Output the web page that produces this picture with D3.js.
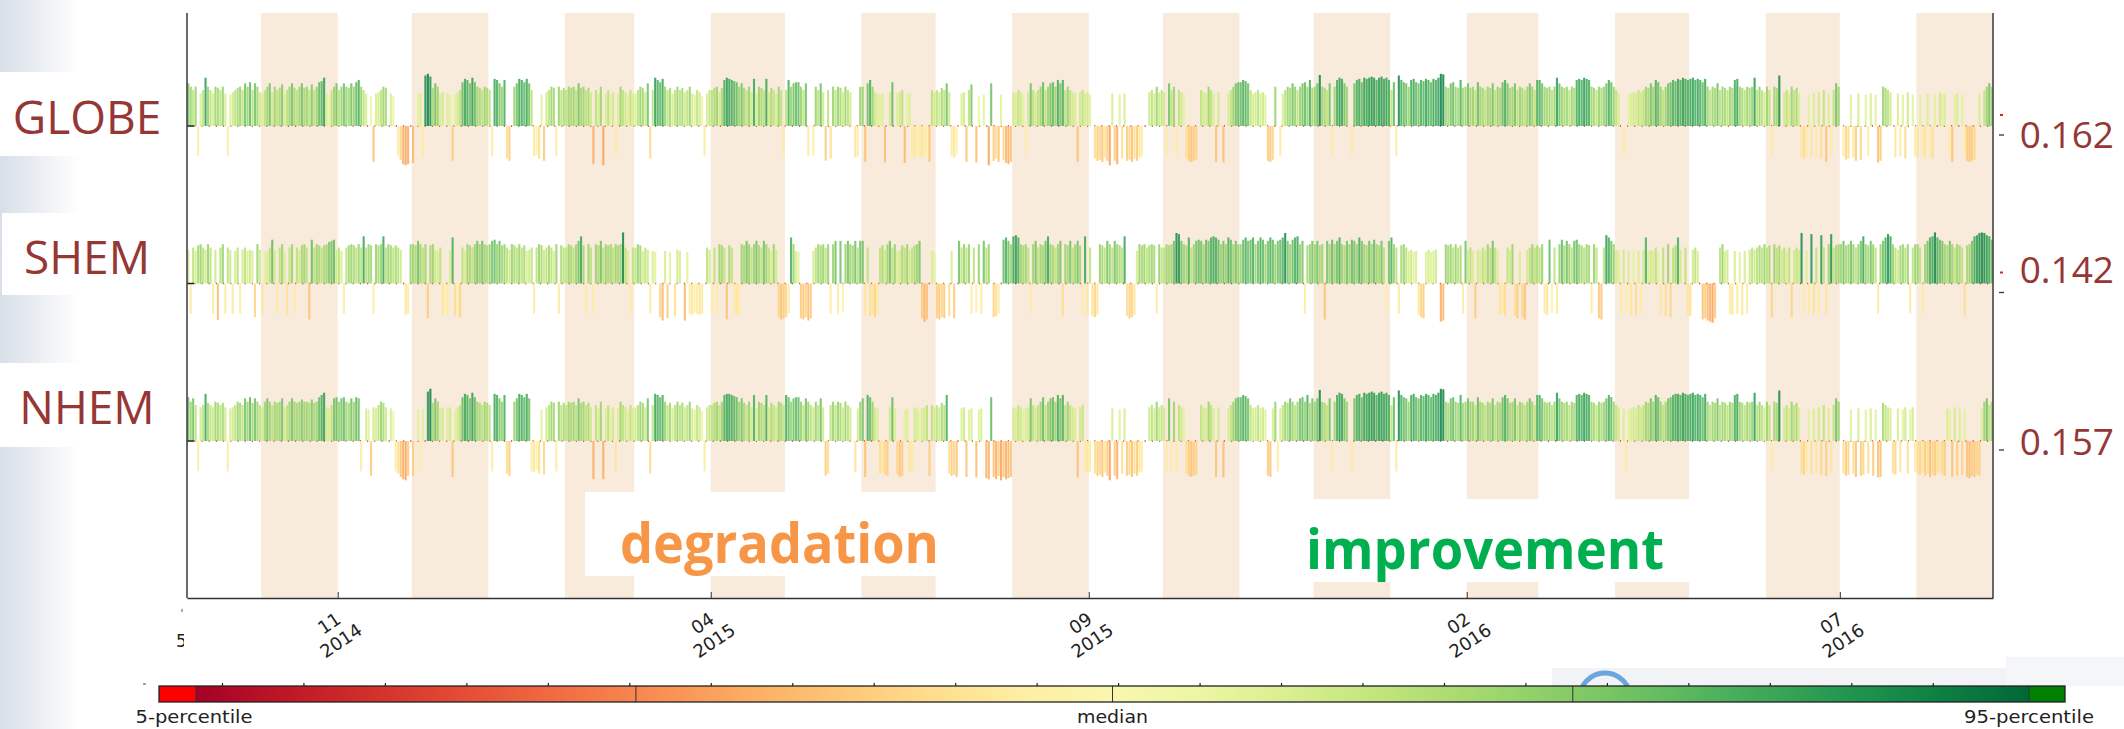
<!DOCTYPE html>
<html lang="en">
<head>
<meta charset="UTF-8">
<title>Daily score changes GLOBE / SHEM / NHEM</title>
<style>
    body, html {
        margin: 0;
        padding: 0;
        width: 100%;
        height: 100%;
        overflow: hidden;
        background: #fff;
    }
    svg { display: block; }
</style>
</head>
<body>
<script src="https://d3js.org/d3.v7.min.js"></script>
<script>
// regions and the summary number shown to the right of each row
var regions = ["GLOBE", "SHEM", "NHEM"];
var summary = ["0.162", "0.142", "0.157"];
var startDate = "2014-09-01", endDate = "2016-09-01";
var tickLabels = ["2014-11", "2015-04", "2015-09", "2016-02", "2016-07"];
var cbLabels = ["5-percentile", "median", "95-percentile"];
var cbBounds = [5, 26.6, 50, 72.6, 95];

// daily percentile of the score change, one value per day from 1 Sep 2014 (0 = no data)
var globe = [
78,72,66,72,45,60,66,88,72,66,60,72,70,66,72,60,44,58,62,66,70,72,66,78,72,80,66,78,72,62,
60,66,72,78,62,72,66,70,76,60,66,72,78,70,66,72,78,70,72,66,76,66,72,80,82,88,60,55,66,72,78,
66,72,78,72,70,78,72,80,84,72,66,60,0,55,34,60,62,66,72,70,0,60,55,0,44,38,30,28,30,0,
32,0,58,60,44,92,95,90,70,78,72,60,62,0,60,58,36,58,62,66,80,86,84,78,88,80,72,70,66,72,70,
66,44,86,84,78,72,84,40,36,0,72,78,86,84,80,86,78,66,44,46,40,58,36,62,66,72,70,44,72,66,70,
66,72,70,72,66,78,70,72,66,70,62,30,66,60,72,28,60,66,58,62,44,60,72,66,62,58,66,60,
60,66,72,70,62,78,40,66,88,84,80,86,72,66,70,60,66,72,66,70,62,66,72,60,58,66,62,55,44,60,66,
66,70,72,62,70,84,88,86,84,82,80,72,78,70,66,72,62,86,60,72,70,66,86,62,70,66,60,72,66,44,
66,84,72,78,80,80,72,66,78,44,0,45,72,66,78,62,36,66,40,72,66,72,70,62,72,66,62,0,42,44,72,
72,34,78,84,72,62,60,58,60,33,0,62,80,0,60,62,66,32,58,60,44,42,46,44,42,44,46,34,66,62,
66,62,70,66,78,62,44,42,46,0,60,62,34,66,76,0,33,55,0,58,0,28,78,36,40,34,58,38,32,30,34,
62,60,66,62,58,44,62,78,66,62,66,72,80,66,72,78,80,72,84,78,84,66,72,66,62,60,34,62,66,60,62,
58,0,40,36,38,34,42,36,28,60,36,30,58,40,60,36,38,34,40,36,42,44,0,0,62,66,60,72,62,66,
62,44,78,66,72,44,66,62,58,40,36,34,36,38,0,66,62,60,72,66,60,34,62,0,33,0,60,66,72,78,80,
80,84,82,78,66,60,62,66,60,62,58,36,34,38,72,0,44,60,66,72,70,78,72,66,72,78,80,72,84,70,
72,78,93,72,70,66,78,44,72,84,88,86,78,72,0,44,78,84,86,80,88,86,88,90,88,84,88,90,86,88,84,
66,80,44,92,84,80,78,72,84,86,80,78,84,82,86,84,80,86,84,88,95,94,72,70,78,80,72,70,84,70,72,
78,70,72,66,80,72,70,66,72,70,78,66,72,70,80,84,78,70,72,78,66,72,70,66,72,78,72,66,84,
84,78,72,70,72,66,72,88,78,72,70,72,66,72,70,84,86,84,88,86,84,72,70,66,72,70,72,78,84,80,72,
66,60,0,44,0,58,60,62,60,66,62,66,72,70,78,72,84,80,72,66,72,78,80,84,82,86,84,88,86,84,
86,88,84,86,84,80,86,72,66,72,70,78,66,72,70,66,72,70,84,86,72,70,66,72,70,72,88,66,72,66,62,
72,66,44,72,70,92,0,62,66,60,72,66,70,60,42,40,44,58,42,60,44,62,40,66,34,60,44,66,78,72,
0,44,38,40,58,42,36,60,38,0,58,44,60,0,58,33,36,72,70,66,62,0,42,60,44,58,40,62,0,58,44,
42,58,44,42,60,44,40,58,0,62,58,60,0,44,34,58,60,0,58,44,36,34,36,38,0,60,0,66,72,78,72
];
var shem = [
62,44,66,60,70,72,66,62,72,66,44,62,33,66,72,44,66,62,44,60,66,44,62,66,60,62,60,38,72,62,
42,58,60,66,80,62,44,66,72,60,42,66,72,44,66,62,70,72,66,34,80,66,72,70,66,70,72,76,78,80,62,
66,60,44,66,70,72,70,66,72,66,86,66,72,70,44,72,70,72,86,66,72,70,66,70,66,62,0,42,44,72,
72,70,78,72,66,72,36,70,72,62,60,66,42,46,44,60,84,40,46,38,66,60,72,70,66,72,78,72,78,72,70,
72,78,80,72,78,70,72,66,62,72,70,66,72,66,70,60,62,66,44,66,72,70,62,66,70,66,60,72,44,70,66,
66,72,70,66,72,78,86,70,44,72,66,44,72,70,78,66,72,70,72,66,72,70,72,93,66,60,44,66,
66,72,70,60,66,62,44,60,58,0,38,32,60,36,58,0,40,62,60,0,32,58,44,42,46,44,42,44,0,66,62,
44,66,44,72,70,66,34,70,66,44,42,44,72,70,78,72,66,72,78,70,66,78,72,66,60,72,62,38,34,36,
38,44,84,72,60,58,36,34,38,32,36,60,66,72,70,72,66,72,44,72,78,44,78,46,72,78,72,70,78,66,78,
78,42,66,40,42,38,44,66,70,62,72,78,66,72,60,62,70,66,72,62,66,70,72,78,36,30,34,0,60,58,
36,34,38,36,0,40,60,36,0,78,66,72,66,72,44,66,46,72,44,78,66,72,0,38,40,44,0,80,84,78,72,
86,88,84,72,70,72,66,44,72,78,66,72,70,78,86,72,70,66,72,78,40,72,70,78,66,72,78,70,44,86,42,
66,40,38,42,72,70,66,78,72,66,78,72,70,66,86,40,36,38,42,60,72,70,72,66,70,72,70,44,72,66,
66,72,70,72,78,92,90,78,72,70,84,66,72,78,80,78,72,80,78,84,86,84,80,72,78,72,84,80,72,78,72,
72,80,84,78,80,84,72,78,84,80,72,78,84,80,72,78,80,84,92,78,72,80,84,86,72,78,44,70,72,78,
72,78,70,72,34,78,72,80,72,78,84,72,70,78,72,80,78,72,84,78,72,70,78,72,80,72,70,78,66,44,78,
84,72,66,44,70,72,66,60,62,58,60,42,38,36,58,62,58,60,62,0,30,32,72,70,72,66,72,66,70,44,78,
62,66,60,36,62,60,66,62,72,66,78,66,60,42,44,40,66,62,72,40,36,60,38,34,62,66,72,66,70,
66,72,44,42,80,46,66,44,72,80,70,78,72,66,78,80,72,70,66,72,70,44,72,66,36,34,66,88,84,78,72,
62,60,44,62,46,60,42,58,40,60,44,62,84,60,62,60,66,58,42,66,40,72,38,66,70,84,62,0,66,42,
40,62,66,60,0,34,36,32,30,28,36,0,66,72,60,62,44,42,60,44,58,42,60,44,62,66,62,66,70,66,72,
66,70,38,72,66,70,62,66,60,66,38,62,66,62,92,44,60,44,90,42,66,44,88,66,42,72,90,66,70,72,
72,78,70,72,78,72,66,72,78,86,72,70,78,72,66,44,72,78,84,90,86,72,66,62,70,72,66,72,44,66,72,
72,66,44,72,78,84,86,93,84,80,78,72,70,78,72,66,72,70,66,40,70,72,78,86,88,92,93,92,88,86,80
];
var nhem = [
80,72,78,66,45,62,66,86,70,66,62,72,70,66,70,62,44,60,62,66,72,70,66,78,72,80,70,78,72,66,
62,72,78,72,66,72,70,72,78,62,66,72,78,72,70,72,76,72,72,70,76,70,72,80,84,88,62,60,66,78,80,
72,78,80,72,70,78,72,80,78,44,0,60,58,36,62,60,66,72,70,62,0,60,55,44,40,34,30,28,36,0,
36,0,58,44,58,0,90,95,70,78,72,60,62,0,60,62,34,58,62,66,80,86,84,78,88,80,72,70,66,72,70,
66,44,86,84,78,72,84,40,36,0,72,78,86,84,80,86,78,44,42,46,40,58,38,62,66,72,70,44,72,66,70,
66,72,70,72,66,78,70,72,66,70,62,30,66,60,72,30,60,66,58,62,42,60,72,66,62,58,66,60,
62,66,72,70,62,78,40,66,86,84,80,84,72,66,70,60,66,72,66,70,62,66,72,60,58,66,62,55,44,62,66,
66,70,72,66,72,84,86,86,84,82,80,72,78,70,66,72,62,84,60,72,70,66,84,62,70,66,62,72,70,66,
84,80,72,78,80,80,72,66,78,72,66,62,72,66,78,62,36,40,66,72,66,72,70,62,72,66,62,0,42,60,72,
78,34,84,80,72,62,60,40,42,38,36,62,80,60,38,34,36,58,60,42,44,62,60,58,60,62,66,36,66,62,
66,62,70,66,84,40,36,38,34,0,60,62,34,58,60,0,33,58,60,0,32,30,80,34,30,36,28,34,30,32,34,
62,60,66,62,58,60,62,78,66,62,66,72,80,66,72,78,80,72,84,78,84,66,72,66,62,60,33,62,66,44,42,
44,0,40,36,38,34,42,36,28,60,36,30,58,40,60,36,38,34,40,36,42,44,0,0,62,66,60,72,62,66,
62,44,78,44,72,44,66,62,58,40,36,34,36,38,0,66,62,60,72,66,60,34,62,0,33,0,60,66,72,78,80,
80,84,82,78,66,60,62,66,60,62,58,36,34,60,72,44,60,66,72,70,78,72,66,72,78,80,72,84,70,78,
72,78,93,72,70,66,78,44,72,84,88,86,78,72,0,44,78,84,86,80,88,86,88,90,88,84,88,90,86,88,84,
66,80,44,92,84,80,78,72,84,86,80,78,84,82,86,84,80,86,84,88,95,94,72,70,78,80,72,70,84,70,72,
78,72,72,66,80,72,70,66,72,70,78,66,72,70,80,84,78,70,72,78,66,72,70,66,72,78,72,66,84,
84,78,72,70,72,66,72,88,78,72,70,72,66,72,70,84,86,84,88,86,84,72,70,66,72,70,72,78,84,80,72,
66,62,0,60,44,58,60,62,60,66,62,66,72,70,78,72,84,80,72,66,72,78,80,84,86,86,84,88,86,84,
86,88,84,86,84,80,86,72,66,72,70,78,66,72,70,66,72,70,84,86,72,70,66,72,70,72,88,66,72,66,62,
72,66,44,72,70,92,0,62,66,60,72,66,70,60,40,38,44,58,40,60,42,62,38,66,36,60,42,66,78,72,
0,40,36,38,58,40,34,60,36,38,58,40,60,36,58,33,34,70,66,62,60,40,38,60,42,58,62,40,58,62,44,
40,38,42,36,40,34,38,36,40,42,38,36,60,58,34,62,36,60,38,58,34,32,36,34,38,36,60,72,78,66,72
];
var series = [globe, shem, nhem];

var width = 2124, height = 729;
var plot = {left: 187, right: 1993, top: 13, bottom: 598};
var darkRed = "#953735";

var svg = d3.select("body").append("svg")
    .attr("width", width)
    .attr("height", height);

var defs = svg.append("defs");

// slide background: bluish fade along the left edge
var bgGrad = defs.append("linearGradient").attr("id", "leftfade");
bgGrad.append("stop").attr("offset", "0%").attr("stop-color", "#d8dfe8");
bgGrad.append("stop").attr("offset", "100%").attr("stop-color", "#ffffff");
svg.append("rect").attr("x", 0).attr("y", 0).attr("width", 80).attr("height", height)
    .attr("fill", "url(#leftfade)");

// scales
var parse = d3.utcParse("%Y-%m-%d");
var parseMonth = d3.utcParse("%Y-%m");
var start = parse(startDate), end = parse(endDate);

var x = d3.scaleUtc().domain([start, end]).range([plot.left, plot.right]);
var yBase = d3.scalePoint().domain(regions).range([126, 441]);
var barLen = d3.scaleLinear().domain([0, 50]).range([27, 55]);
var colorPos = d3.scaleLinear().domain([0, 100]).range([0, 1]).clamp(true);
var color = function(p) { return d3.interpolateRdYlGn(colorPos(p)); };

// shaded every other month
var months = d3.utcMonth.range(start, end).filter(function(m) { return m.getUTCMonth() % 2 === 1; });
svg.append("g").selectAll("rect")
    .data(months)
    .enter().append("rect")
    .attr("x", function(m) { return x(m); })
    .attr("width", function(m) { return x(d3.utcMonth.offset(m, 1)) - x(m); })
    .attr("y", plot.top)
    .attr("height", plot.bottom - plot.top)
    .attr("fill", "#f9ebdc");

// one row of daily bars per region
regions.forEach(function(name, r) {
    var base = yBase(name);
    var g = svg.append("g");

    g.append("line")
        .attr("x1", plot.left).attr("x2", plot.right)
        .attr("y1", base).attr("y2", base)
        .attr("stroke", "#c0392b")
        .attr("stroke-width", 1.3)
        .attr("stroke-dasharray", "1.2,6");

    var days = series[r].map(function(v, i) { return {date: d3.utcDay.offset(start, i), v: v}; })
        .filter(function(d) { return d.v > 0; });

    g.selectAll("rect")
        .data(days)
        .enter().append("rect")
        .attr("x", function(d) { return x(d.date) + 0.2; })
        .attr("width", 2.1)
        .attr("y", function(d) { return d.v >= 50 ? base - barLen(d.v - 50) : base; })
        .attr("height", function(d) { return barLen(Math.abs(d.v - 50)); })
        .attr("fill", function(d) { return color(d.v); })
        .attr("fill-opacity", 0.88);

    // small ticks on the axes at each baseline
    g.append("line").attr("x1", plot.left).attr("x2", plot.left + 7)
        .attr("y1", base).attr("y2", base).attr("stroke", "#222").attr("stroke-width", 1.5);
    g.append("line").attr("x1", plot.right + 6).attr("x2", plot.right + 11)
        .attr("y1", base + 9).attr("y2", base + 9).attr("stroke", "#333").attr("stroke-width", 1.3);
    if (r < 2) {
        g.append("rect").attr("x", plot.right + 7).attr("y", base - 12)
            .attr("width", 3).attr("height", 2).attr("fill", "#e02020");
    }
});

// white note boxes with the two key words
svg.append("rect").attr("x", 585).attr("y", 492).attr("width", 360).attr("height", 84).attr("fill", "#fff");
svg.append("rect").attr("x", 1290).attr("y", 499).attr("width", 430).attr("height", 83).attr("fill", "#fff");

svg.append("text")
    .attr("x", 620).attr("y", 563)
    .attr("font-family", "Open Sans").attr("font-weight", "bold").attr("font-size", 55)
    .attr("textLength", 319).attr("lengthAdjust", "spacingAndGlyphs")
    .attr("fill", "#f79646")
    .text("degradation");
svg.append("text")
    .attr("x", 1306).attr("y", 569)
    .attr("font-family", "Open Sans").attr("font-weight", "bold").attr("font-size", 55)
    .attr("textLength", 358).attr("lengthAdjust", "spacingAndGlyphs")
    .attr("fill", "#00b050")
    .text("improvement");

// frame: left, right and bottom
svg.append("line").attr("x1", plot.left).attr("x2", plot.left)
    .attr("y1", plot.top).attr("y2", plot.bottom).attr("stroke", "#444").attr("stroke-width", 1.6);
svg.append("line").attr("x1", plot.right).attr("x2", plot.right)
    .attr("y1", plot.top).attr("y2", plot.bottom).attr("stroke", "#444").attr("stroke-width", 1.6);

var tickDates = tickLabels.map(function(t) { return parseMonth(t); });
var xAxis = d3.axisBottom(x)
    .tickValues(tickDates)
    .tickSize(-6)
    .tickSizeOuter(0)
    .tickFormat("");
var gx = svg.append("g")
    .attr("transform", "translate(0," + plot.bottom + ")")
    .call(xAxis);
gx.select(".domain").attr("stroke", "#333").attr("stroke-width", 1.6);
gx.selectAll(".tick line").attr("stroke", "#333");
gx.selectAll(".tick text").remove();
gx.selectAll(".tick").each(function(d) {
    var lab = d3.select(this).append("g")
        .attr("transform", "translate(-3,34) rotate(-34)")
        .attr("font-family", "DejaVu Sans")
        .attr("font-size", 18)
        .attr("text-anchor", "middle")
        .attr("fill", "#222");
    lab.append("text").attr("y", -10.5).attr("dy", "0.35em").text(d3.utcFormat("%m")(d));
    lab.append("text").attr("y", 10.5).attr("dy", "0.35em").text(d3.utcFormat("%Y")(d));
});

// stray clipped glyph and marks left of the axis
defs.append("clipPath").attr("id", "cut5").append("rect")
    .attr("x", 170).attr("y", 615).attr("width", 14).attr("height", 40);
svg.append("text").attr("x", 176).attr("y", 647).attr("clip-path", "url(#cut5)")
    .attr("font-family", "DejaVu Sans").attr("font-size", 17).attr("fill", "#222").text("5");
svg.append("line").attr("x1", 182).attr("x2", 182).attr("y1", 609).attr("y2", 612)
    .attr("stroke", "#555").attr("stroke-width", 1);

// region names in white boxes on the left
var boxes = [[0, 72, 180, 84], [2, 213, 178, 82], [0, 363, 180, 84]];
var nameBase = [134, 274, 424];
regions.forEach(function(name, r) {
    var b = boxes[r];
    svg.append("rect").attr("x", b[0]).attr("y", b[1]).attr("width", b[2]).attr("height", b[3])
        .attr("fill", "#fff");
    svg.append("text")
        .attr("x", 87).attr("y", nameBase[r])
        .attr("text-anchor", "middle")
        .attr("font-family", "Open Sans").attr("font-size", 46)
        .attr("fill", darkRed)
        .text(name);
});

// summary numbers on the right
var sumBase = [148, 283, 455];
summary.forEach(function(s, r) {
    svg.append("text")
        .attr("x", 2114).attr("y", sumBase[r])
        .attr("text-anchor", "end")
        .attr("font-family", "Open Sans").attr("font-size", 37)
        .attr("fill", darkRed)
        .text(s);
});

// slide decoration behind the colour bar (bottom right)
svg.append("rect").attr("x", 1552).attr("y", 668).attr("width", 572).attr("height", 18).attr("fill", "#f1f3f6");
svg.append("rect").attr("x", 2006).attr("y", 657).attr("width", 118).attr("height", 29).attr("fill", "#f4f6f8");
svg.append("path").attr("d", "M1582.5,686 A26,26 0 0 1 1627.5,686")
    .attr("fill", "none").attr("stroke", "#6aa6dc").attr("stroke-width", 5);

// colour bar
var cb = {left: 159, x0: 196, x1: 2029, right: 2065, y: 686, h: 16};
var cbX = d3.scaleLinear().domain([5, 95]).range([cb.x0, cb.x1]);
var cbPiece = d3.scaleLinear().domain(cbBounds).range(cbBounds.map(function(b) { return cbX(b); }));

var cbGrad = defs.append("linearGradient").attr("id", "rdylgn");
d3.range(0, 1.0001, 0.05).forEach(function(t) {
    cbGrad.append("stop").attr("offset", (t * 100) + "%").attr("stop-color", d3.interpolateRdYlGn(t));
});

var gcb = svg.append("g");
gcb.append("rect").attr("x", cb.left).attr("y", cb.y).attr("width", cb.x0 - cb.left).attr("height", cb.h)
    .attr("fill", "#ff0000");
gcb.append("rect").attr("x", cb.x0).attr("y", cb.y).attr("width", cb.x1 - cb.x0).attr("height", cb.h)
    .attr("fill", "url(#rdylgn)");
gcb.append("rect").attr("x", cb.x1).attr("y", cb.y).attr("width", cb.right - cb.x1).attr("height", cb.h)
    .attr("fill", "#008000");
gcb.selectAll("line.div")
    .data(cbBounds)
    .enter().append("line")
    .attr("x1", function(b) { return cbPiece(b); })
    .attr("x2", function(b) { return cbPiece(b); })
    .attr("y1", cb.y).attr("y2", cb.y + cb.h)
    .attr("stroke", "#333").attr("stroke-width", 1);
gcb.append("rect").attr("x", cb.left).attr("y", cb.y).attr("width", cb.right - cb.left).attr("height", cb.h)
    .attr("fill", "none").attr("stroke", "#222").attr("stroke-width", 1.3);

var cbTicks = d3.range(6.3, 91, 4);
gcb.selectAll("line.tk")
    .data(cbTicks)
    .enter().append("line")
    .attr("x1", function(t) { return cbX(t); })
    .attr("x2", function(t) { return cbX(t); })
    .attr("y1", cb.y - 3).attr("y2", cb.y)
    .attr("stroke", "#222").attr("stroke-width", 1.2);
gcb.append("line").attr("x1", 143).attr("x2", 146).attr("y1", 684).attr("y2", 684)
    .attr("stroke", "#444").attr("stroke-width", 1);

var cbLabelPos = [cbBounds[0], cbBounds[2], cbBounds[4]];
var cbLabelLen = [117, 71, 130];
cbLabels.forEach(function(l, i) {
    gcb.append("text")
        .attr("x", cbPiece(cbLabelPos[i]) - (i === 0 ? 2 : 0))
        .attr("y", 723)
        .attr("text-anchor", "middle")
        .attr("font-family", "DejaVu Sans").attr("font-size", 17)
        .attr("textLength", cbLabelLen[i]).attr("lengthAdjust", "spacingAndGlyphs")
        .attr("fill", "#222")
        .text(l);
});
</script>
</body>
</html>
